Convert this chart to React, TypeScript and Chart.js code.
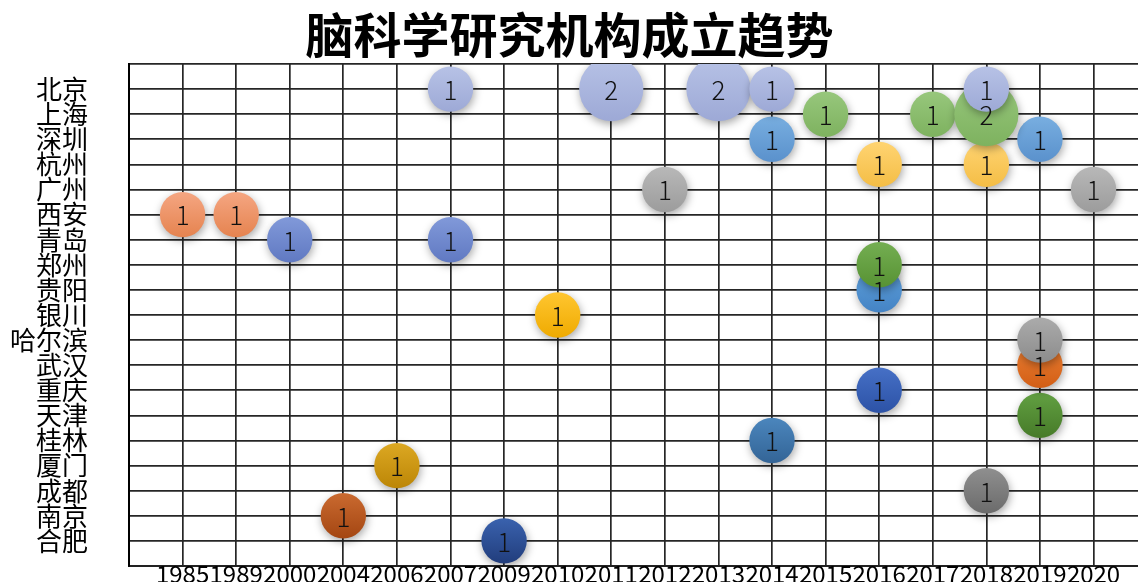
import React, { useEffect, useRef } from 'react';
import { Chart, registerables } from 'chart.js';

Chart.register(...registerables);

const FONT = '"Noto Sans CJK SC", "Noto Sans", sans-serif';

const chartTitle = '脑科学研究机构成立趋势';

const cities = ['北京', '上海', '深圳', '杭州', '广州', '西安', '青岛', '郑州', '贵阳', '银川', '哈尔滨', '武汉', '重庆', '天津', '桂林', '厦门', '成都', '南京', '合肥'];

const years = ['1985', '1989', '2000', '2004', '2006', '2007', '2009', '2010', '2011', '2012', '2013', '2014', '2015', '2016', '2017', '2018', '2019', '2020'];

const bubbleCity = ['北京', '北京', '北京', '北京', '北京', '上海', '上海', '上海', '深圳', '深圳', '杭州', '杭州', '广州', '广州', '西安', '西安', '青岛', '青岛', '郑州', '贵阳', '银川', '哈尔滨', '武汉', '重庆', '天津', '桂林', '厦门', '成都', '南京', '合肥'];
const bubbleYear = ['2007', '2011', '2013', '2014', '2018', '2015', '2017', '2018', '2014', '2019', '2016', '2018', '2012', '2020', '1985', '1989', '2000', '2007', '2016', '2016', '2010', '2019', '2019', '2016', '2019', '2014', '2006', '2018', '2004', '2009'];
const bubbleCount = [1, 2, 2, 1, 1, 1, 1, 2, 1, 1, 1, 1, 1, 1, 1, 1, 1, 1, 1, 1, 1, 1, 1, 1, 1, 1, 1, 1, 1, 1];

const colorTop = ['#B7C2E6', '#97C77C', '#78AEE0', '#FFD472', '#B8B8B8', '#F5A682', '#8199D9', '#74AE52', '#5EA0DB', '#FFC630', '#ABABAB', '#EC8034', '#4670C6', '#62A042', '#4B86BD', '#DCA823', '#8F8F8F', '#CA6A30', '#3A62AE'];
const colorBottom = ['#9DA9D6', '#7EB25F', '#5A91CC', '#F4BD45', '#9C9C9C', '#E5834F', '#6079C2', '#579233', '#4483C4', '#EFAA00', '#8C8C8C', '#D25E15', '#2C52A6', '#467A28', '#336496', '#BC8606', '#6B6B6B', '#A44612', '#213D7C'];

const UNIT_RADIUS = 22.7;

export default function App() {
  const canvasRef = useRef<HTMLCanvasElement | null>(null);

  useEffect(() => {
    const canvas = canvasRef.current;
    if (!canvas) return;

    const datasets = cities.map((city, ci) => {
      const data: any[] = [];
      bubbleCity.forEach((c, i) => {
        if (c === city) {
          data.push({ x: years.indexOf(bubbleYear[i]) + 1, y: ci + 1, v: bubbleCount[i] });
        }
      });
      return {
        label: city,
        data,
        clip: 0,
        borderWidth: 0,
        radius: (ctx: any) => (ctx.raw ? UNIT_RADIUS * Math.sqrt(ctx.raw.v) : UNIT_RADIUS),
        backgroundColor: (ctx: any) => {
          if (ctx.type !== 'data' || !ctx.raw) return colorTop[ci];
          const chart = ctx.chart;
          const ys = chart.scales.y;
          if (!ys) return colorTop[ci];
          const py = ys.getPixelForValue(ctx.raw.y);
          const r = UNIT_RADIUS * Math.sqrt(ctx.raw.v);
          if (!isFinite(py) || !isFinite(r)) return colorTop[ci];
          const g = chart.ctx.createLinearGradient(0, py - r, 0, py + r);
          g.addColorStop(0, colorTop[ci]);
          g.addColorStop(1, colorBottom[ci]);
          return g;
        },
      };
    });

    const bubblePlugin = {
      id: 'bubbleDecor',
      beforeDatasetsDraw(chart: any) {
        const c = chart.ctx;
        c.save();
        c.shadowColor = 'rgba(0,0,0,0.35)';
        c.shadowBlur = 8;
        c.shadowOffsetX = 1;
        c.shadowOffsetY = 3;
      },
      afterDatasetsDraw(chart: any) {
        const c = chart.ctx;
        c.restore();
        c.save();
        c.font = `300 26px ${FONT}`;
        c.fillStyle = '#111';
        c.textAlign = 'center';
        c.textBaseline = 'middle';
        chart.data.datasets.forEach((ds: any, di: number) => {
          const meta = chart.getDatasetMeta(di);
          meta.data.forEach((el: any, i: number) => {
            c.fillText(String(ds.data[i].v), el.x, el.y + 1);
          });
        });
        c.restore();
      },
      afterDraw(chart: any) {
        const c = chart.ctx;
        c.save();
        c.font = `bold 48px ${FONT}`;
        c.fillStyle = '#000';
        c.textAlign = 'center';
        c.textBaseline = 'middle';
        c.fillText(chartTitle, 569.5, 35);
        c.restore();
      },
    };

    const zeroPad = (s: any) => {
      s.paddingLeft = 0;
      s.paddingRight = 0;
      s.paddingTop = 0;
      s.paddingBottom = 0;
    };

    const chart = new Chart(canvas, {
      type: 'bubble',
      data: { datasets },
      plugins: [bubblePlugin],
      options: {
        animation: false,
        responsive: true,
        maintainAspectRatio: false,
        events: [],
        layout: { autoPadding: false, padding: { left: 10, right: 0, top: 64, bottom: 4 } },
        plugins: {
          legend: { display: false },
          title: { display: false },
          tooltip: { enabled: false },
        },
        scales: {
          x: {
            type: 'linear',
            min: 0,
            max: 18.83,
            afterBuildTicks: (s: any) => {
              s.ticks = years.map((_, i) => ({ value: i })).concat([{ value: years.length }]);
            },
            afterFit: (s: any) => {
              s.height = 16;
              zeroPad(s);
            },
            ticks: {
              autoSkip: false,
              maxRotation: 0,
              minRotation: 0,
              padding: 0,
              color: '#000',
              font: { family: FONT, size: 24, lineHeight: 0.67 },
              callback: (v: any) => years[Number(v) - 1] ?? '',
            },
            grid: { color: '#262626', lineWidth: 1.7, drawTicks: false },
            border: { color: '#222', width: 2 },
          },
          y: {
            type: 'linear',
            min: 0,
            max: 20,
            reverse: true,
            afterBuildTicks: (s: any) => {
              s.ticks = Array.from({ length: cities.length + 2 }, (_, i) => ({ value: i }));
            },
            afterFit: (s: any) => {
              s.width = 119;
              zeroPad(s);
            },
            ticks: {
              autoSkip: false,
              padding: 0,
              color: '#000',
              font: { family: FONT, size: 26, lineHeight: 1 },
              callback: (v: any) => cities[Number(v) - 1] ?? '',
            },
            grid: { color: '#262626', lineWidth: 1.7, drawTicks: true, tickLength: 41, tickColor: 'rgba(0,0,0,0)' },
            border: { color: '#000', width: 2 },
          },
        },
      },
    } as any);

    return () => chart.destroy();
  }, []);

  return (
    <div style={{ position: 'absolute', left: 0, top: 0, width: 1138, height: 586, background: '#fff' }}>
      <canvas ref={canvasRef} />
    </div>
  );
}
